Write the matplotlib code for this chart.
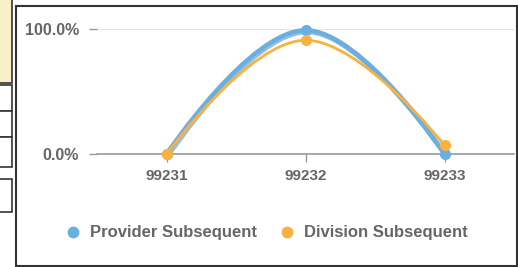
import matplotlib
matplotlib.use("Agg")
import matplotlib.pyplot as plt
import matplotlib.patheffects as pe
from matplotlib.path import Path
from matplotlib.patches import PathPatch, Rectangle
from matplotlib.lines import Line2D
from matplotlib.ticker import FuncFormatter

# data
codes = ["99231", "99232", "99233"]
provider = [0, 99, 0]
division = [0, 91, 7]
series_names = ["Provider Subsequent", "Division Subsequent"]
yticks = [0, 100]

W, H = 518, 267
BLUE = "#6aafe0"
BLUE_DARK = "#3d7fb8"
ORANGE = "#f8b240"
TEXT = "#666666"

plt.rcParams["font.family"] = ["Liberation Sans", "DejaVu Sans"]


def spline_path(xs, ys, smoothing=1.5):
    """Highcharts-like spline built from cubic bezier segments."""
    verts = [(xs[0], ys[0])]
    kinds = [Path.MOVETO]
    right_prev = (xs[0], ys[0])
    n = len(xs)
    for i in range(1, n):
        x, y = xs[i], ys[i]
        if i < n - 1:
            lx, ly = xs[i - 1], ys[i - 1]
            nx, ny = xs[i + 1], ys[i + 1]
            d = smoothing + 1
            lcx, lcy = (smoothing * x + lx) / d, (smoothing * y + ly) / d
            rcx, rcy = (smoothing * x + nx) / d, (smoothing * y + ny) / d
            corr = (rcy - lcy) * (rcx - x) / (rcx - lcx) + y - rcy
            lcy += corr
            rcy += corr
            # no false extremes
            if lcy > ly and lcy > y:
                lcy = max(ly, y); rcy = 2 * y - lcy
            elif lcy < ly and lcy < y:
                lcy = min(ly, y); rcy = 2 * y - lcy
            if rcy > ny and rcy > y:
                rcy = max(ny, y); lcy = 2 * y - rcy
            elif rcy < ny and rcy < y:
                rcy = min(ny, y); lcy = 2 * y - rcy
            left, right = (lcx, lcy), (rcx, rcy)
        else:
            left, right = (x, y), None
        verts += [right_prev, left, (x, y)]
        kinds += [Path.CURVE4] * 3
        right_prev = right
    return Path(verts, kinds)


def box(fig, x, y, w, h, **kw):
    # pixel box, top-left origin
    r = Rectangle((x / W, 1 - (y + h) / H), w / W, h / H,
                  transform=fig.transFigure, **kw)
    fig.add_artist(r)


fig = plt.figure(figsize=(W / 100, H / 100), dpi=100)

# bits of the neighbouring panel on the left
box(fig, -3, -3, 15, 86, facecolor="#f7f0c8", edgecolor="#333333", lw=1.2)
box(fig, -3, 85, 15, 26, facecolor="white", edgecolor="#333333", lw=1.2)
box(fig, -3, 111, 15, 26, facecolor="white", edgecolor="#333333", lw=1.2)
box(fig, -3, 137, 15, 30, facecolor="white", edgecolor="#333333", lw=1.2)
box(fig, -3, 179, 15, 33, facecolor="white", edgecolor="#333333", lw=1.2)
# chart frame
box(fig, 15.5, 5.5, 501, 260, facecolor="none", edgecolor="#333333", lw=1.5)

ax = fig.add_axes([97 / W, 1 - 154 / H, 417 / W, 125 / H])
x = list(range(len(codes)))
ax.set_xlim(-0.5, len(codes) - 0.5)
ax.set_ylim(0, 100)

for v in yticks[1:]:
    ax.axhline(v, color="#e6e6e6", lw=1, zorder=1)

ax.add_patch(PathPatch(spline_path(x, provider), fill=False, edgecolor=BLUE,
                       lw=3.2, zorder=3, clip_on=False,
                       path_effects=[pe.Stroke(offset=(1, -1), linewidth=3.8,
                                               foreground=BLUE_DARK, alpha=0.5),
                                     pe.Normal()]))
ax.plot(x, provider, linestyle="none", marker="o", ms=7, color=BLUE,
        zorder=4, clip_on=False)
ax.add_patch(PathPatch(spline_path(x, division), fill=False, edgecolor=ORANGE,
                       lw=2, zorder=5, clip_on=False))
ax.plot(x, division, linestyle="none", marker="o", ms=7, color=ORANGE,
        zorder=6, clip_on=False)

for s in ["top", "right", "left"]:
    ax.spines[s].set_visible(False)
ax.spines["bottom"].set_color("#999999")
ax.spines["bottom"].set_linewidth(1.2)

ax.set_xticks(x)
ax.set_xticklabels(codes)
ax.set_yticks(yticks)
ax.yaxis.set_major_formatter(FuncFormatter(lambda v, p: f"{v:.1f}%"))
ax.tick_params(axis="x", length=6, width=1, color="#999999", pad=5,
               labelsize=11, labelcolor=TEXT)
ax.tick_params(axis="y", length=6, width=1, color="#999999", pad=7,
               labelsize=11.5, labelcolor=TEXT)
for lab in ax.get_xticklabels() + ax.get_yticklabels():
    lab.set_fontweight("bold")

handles = [Line2D([], [], linestyle="none", marker="o", ms=7.5, color=c)
           for c in (BLUE, ORANGE)]
fig.legend(handles, series_names, loc="center", ncol=2, frameon=False,
           bbox_to_anchor=(266 / W, 1 - 233 / H), handletextpad=0.52,
           columnspacing=1.3, handlelength=1.0,
           prop={"weight": "bold", "size": 12}, labelcolor=TEXT)

fig.savefig("out.png", dpi=100)
